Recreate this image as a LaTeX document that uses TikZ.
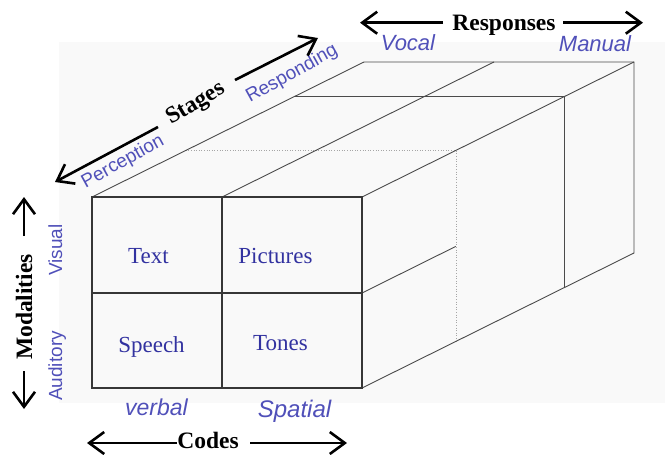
\documentclass[tikz,border=0pt]{standalone}
\usepackage{fontspec}
\setmainfont{Liberation Serif}
\newfontfamily\labelsans{Liberation Sans}
\usetikzlibrary{arrows.meta}

\definecolor{celltext}{RGB}{50,50,160}
\definecolor{axislabel}{RGB}{80,80,185}
\definecolor{bgfill}{RGB}{249,249,249}
\definecolor{edgecol}{RGB}{55,55,55}
\definecolor{depthcol}{RGB}{75,75,75}

\tikzset{
  frontedge/.style={draw=edgecol, line width=1.2pt},
  depthedge/.style={draw=depthcol, line width=0.9pt},
  hiddenedge/.style={draw=gray!70, line width=0.6pt, dotted},
  bigarrow/.style={line width=2.6pt, -{Straight Barb[length=15pt,width=22pt]}},
  celllabel/.style={text=celltext, font=\fontsize{23}{23}\selectfont, inner sep=0pt},
  axistitle/.style={text=black, font=\fontsize{23.5}{23.5}\selectfont\bfseries, inner sep=0pt},
  valuelabel/.style={text=axislabel, font=\labelsans\fontsize{19}{19}\selectfont, inner sep=0pt},
  valueitalic/.style={text=axislabel, font=\labelsans\itshape\fontsize{22}{22}\selectfont, inner sep=0pt},
}

\begin{document}
\begin{tikzpicture}[x=1pt,y=-1pt]
\useasboundingbox (0,0) rectangle (665,455);
\fill[bgfill] (59,42) rectangle (665,403);

% front face corners
\coordinate (f00) at (92,197);
\coordinate (f10) at (222,197);
\coordinate (f20) at (362,197);
\coordinate (f01) at (92,293);
\coordinate (f21) at (362,293);
\coordinate (f02) at (92,388);
\coordinate (f12) at (222,388);
\coordinate (f22) at (362,388);
% back face corners (depth vector (272,-135))
\coordinate (b00) at (364,62);
\coordinate (b10) at (494,62);
\coordinate (b20) at (634,62);
\coordinate (b22) at (634,253);
% section between vocal and manual responses
\coordinate (s00) at (294.6,96.4);
\coordinate (s20) at (564.6,96.4);
\coordinate (s22) at (564.6,287.4);
% hidden section between perception and responding
\coordinate (h00) at (185.8,150.4);
\coordinate (h20) at (455.8,150.4);
\coordinate (h21) at (455.8,246.4);
\coordinate (h22) at (455.8,341.4);

% hidden section
\draw[hiddenedge] (h00) -- (h20) -- (h22);

% receding edges
\draw[depthedge] (f00) -- (b00) -- (b20) -- (b22) -- (f22);
\draw[depthedge] (f10) -- (b10);
\draw[depthedge] (f20) -- (b20);
\draw[depthedge] (f21) -- (h21);
\draw[depthedge] (s00) -- (s20) -- (s22);

% front face grid
\draw[frontedge] (f00) rectangle (f22);
\draw[frontedge] (f10) -- (f12);
\draw[frontedge] (f01) -- (f21);

% cell contents
\node[celllabel, anchor=base] (text) at (148.5,263) {Text};
\node[celllabel, anchor=base] (pictures) at (275.5,263) {Pictures};
\node[celllabel, anchor=base] (speech) at (151.5,352) {Speech};
\node[celllabel, anchor=base] (tones) at (280.5,350) {Tones};

% codes
\node[valueitalic, anchor=base, font=\labelsans\itshape\fontsize{23}{23}\selectfont] (verbal) at (156.5,415) {verbal};
\node[valueitalic, anchor=base, font=\labelsans\itshape\fontsize{24}{24}\selectfont] (spatial) at (294.5,417) {Spatial};
\node[axistitle, anchor=base] (codes) at (208,448) {Codes};
\coordinate (codesTipL) at (87,443);
\coordinate (codesTipR) at (347,443);
\coordinate (codesEndL) at (177,443);
\coordinate (codesEndR) at (250,443);
\draw[bigarrow] (codesEndL) -- (codesTipL);
\draw[bigarrow] (codesEndR) -- (codesTipR);

% responses
\node[valueitalic, anchor=base] (vocal) at (408,50.5) {Vocal};
\node[valueitalic, anchor=base, font=\labelsans\itshape\fontsize{22}{22}\selectfont] (manual) at (595,51) {Manual};
\node[axistitle, anchor=base] (responses) at (504,30.7) {Responses};
\coordinate (respTipL) at (360,22.7);
\coordinate (respTipR) at (643,22.7);
\coordinate (respEndL) at (443,22.7);
\coordinate (respEndR) at (563,22.7);
\draw[bigarrow] (respEndL) -- (respTipL);
\draw[bigarrow] (respEndR) -- (respTipR);

% modalities
\node[valuelabel, rotate=90, anchor=base] (visual) at (62,250) {Visual};
\node[valuelabel, rotate=90, anchor=base] (auditory) at (62,366) {Auditory};
\node[axistitle, rotate=90, anchor=base] (modalities) at (32,307) {Modalities};
\coordinate (modTipU) at (24,197);
\coordinate (modTipD) at (24,409);
\coordinate (modEndU) at (24,236);
\coordinate (modEndD) at (24,371);
\draw[bigarrow] (modEndU) -- (modTipU);
\draw[bigarrow] (modEndD) -- (modTipD);

% stages
\node[valuelabel, rotate=29] (perception) at (123,162) {Perception};
\node[valuelabel, rotate=29] (responding) at (292,74) {Responding};
\node[axistitle, rotate=31] (stages) at (196,104) {Stages};
\coordinate (stTipL) at (55,182);
\coordinate (stTipR) at (318,38);
\coordinate (stEndL) at (158,127);
\coordinate (stEndR) at (235,80);
\draw[bigarrow] (stEndL) -- (stTipL);
\draw[bigarrow] (stEndR) -- (stTipR);
\end{tikzpicture}
\end{document}
